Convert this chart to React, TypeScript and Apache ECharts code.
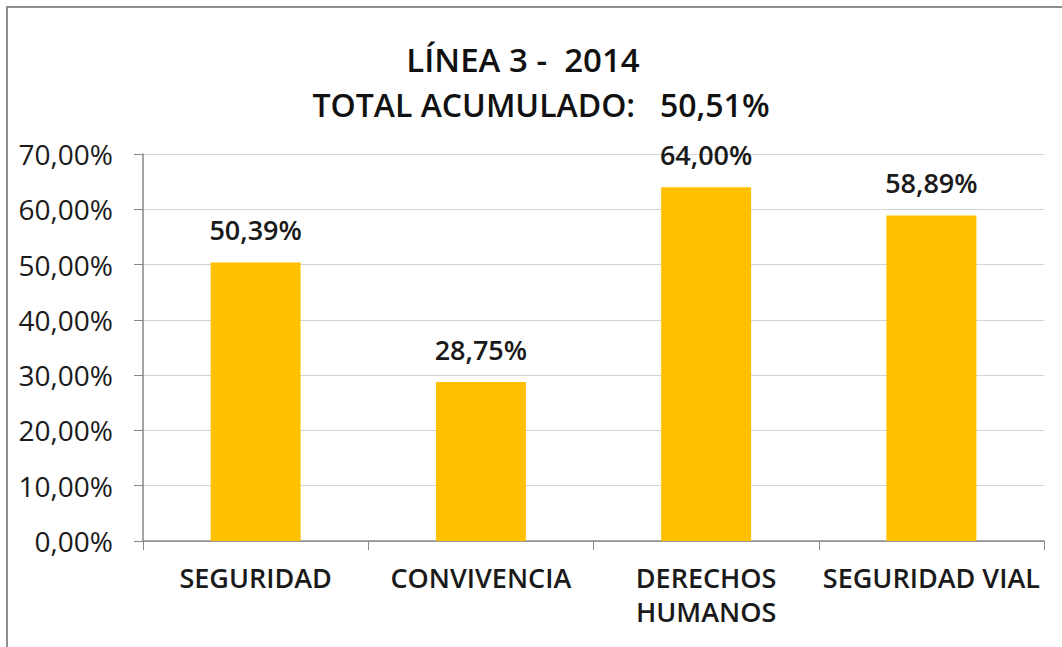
import React, { useEffect, useRef } from "react";
import * as echarts from "echarts";

const categories = ["SEGURIDAD", "CONVIVENCIA", "DERECHOS\nHUMANOS", "SEGURIDAD VIAL"];
const values = [50.39, 28.75, 64.0, 58.89];
const titleLine1 = "LÍNEA 3 -  2014";
const titleLine2 = "TOTAL ACUMULADO:   50,51%";
const yMin = 0;
const yMax = 70;
const yInterval = 10;

const FONT = "'Open Sans', 'Noto Sans', sans-serif";

function fmt(v: number): string {
  return v.toFixed(2).replace(".", ",") + "%";
}

export default function App() {
  const ref = useRef<HTMLDivElement>(null);
  useEffect(() => {
    document.body.style.margin = "0";
    const chart = echarts.init(ref.current!, undefined, { renderer: "svg" });
    const titleStyle = {
      fontFamily: FONT,
      fontWeight: 600,
      fill: "#111111",
      textAlign: "center",
      textVerticalAlign: "middle",
    };
    chart.setOption({
      animation: false,
      backgroundColor: "#ffffff",
      graphic: [
        {
          type: "rect",
          shape: { x: 7, y: 7, width: 1200, height: 800 },
          style: { fill: "none", stroke: "#8f8f8f", lineWidth: 2 },
          silent: true,
        },
        {
          type: "text",
          x: 523,
          y: 59,
          style: { ...titleStyle, fontSize: 33, text: titleLine1 },
          silent: true,
        },
        {
          type: "text",
          x: 541,
          y: 104,
          style: { ...titleStyle, fontSize: 32, text: titleLine2 },
          silent: true,
        },
      ],
      grid: { left: 143, right: 18, top: 154, bottom: 106 },
      xAxis: {
        type: "category",
        data: categories,
        axisLine: { lineStyle: { color: "#868686", width: 1.5 } },
        axisTick: { show: true, length: 9, lineStyle: { color: "#868686" } },
        axisLabel: {
          interval: 0,
          margin: 19,
          fontFamily: FONT,
          fontSize: 27,
          fontWeight: 600,
          color: "#1a1a1a",
          lineHeight: 34,
        },
      },
      yAxis: {
        type: "value",
        min: yMin,
        max: yMax,
        interval: yInterval,
        axisLine: { show: true, lineStyle: { color: "#868686", width: 1.5 } },
        axisTick: { show: true, length: 9, lineStyle: { color: "#868686" } },
        splitLine: { lineStyle: { color: "#d3d3d3", width: 1.2 } },
        axisLabel: {
          margin: 30,
          fontFamily: FONT,
          fontSize: 28,
          color: "#1a1a1a",
          formatter: (v: number) => fmt(v),
        },
      },
      series: [
        {
          type: "bar",
          data: values,
          barWidth: 90,
          itemStyle: { color: "#FFC000" },
          label: {
            show: true,
            position: "top",
            distance: 19,
            fontFamily: FONT,
            fontSize: 27,
            fontWeight: 600,
            color: "#1a1a1a",
            formatter: (p: any) => fmt(p.value),
          },
        },
      ],
    });
    return () => chart.dispose();
  }, []);
  return <div ref={ref} style={{ width: 1062, height: 647 }} />;
}
